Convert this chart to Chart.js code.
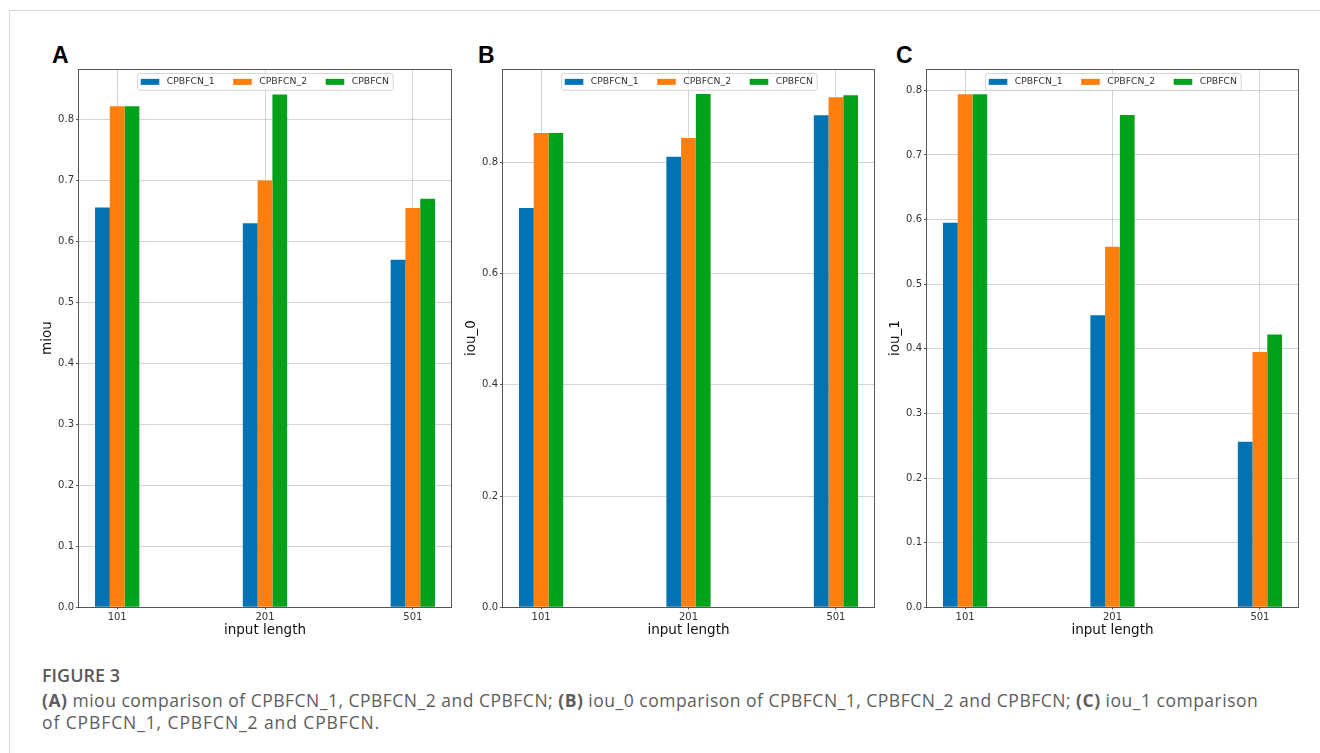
<!DOCTYPE html>
<html>
<head>
<meta charset="utf-8">
<script src="https://cdn.jsdelivr.net/npm/chart.js@4.4.0/dist/chart.umd.min.js"></script>
<style>
  body { margin: 0; background: #fff; width: 1320px; height: 753px; overflow: hidden; position: relative; }
  .marco { position: absolute; left: 9px; top: 10px; width: 1400px; height: 800px; border-left: 1px solid #d6d6d6; border-top: 1px solid #d6d6d6; }
  .panel { position: absolute; top: 60px; }
  .letra { position: absolute; top: 44px; font-family: "Liberation Sans", Arial, sans-serif; font-weight: bold; font-size: 23px; line-height: 23px; color: #000; }
  .fig { position: absolute; left: 42px; top: 664px; font-family: "Open Sans", sans-serif; font-weight: 600; font-size: 18px; line-height: 22px; color: #5a5a5a; }
  .texto { position: absolute; left: 42px; top: 689px; font-family: "Open Sans", sans-serif; font-size: 17.5px; line-height: 22px; color: #5d5d5d; white-space: nowrap; letter-spacing: 0.5px; }
  .texto b { font-weight: 700; }
  .texto .l2 { letter-spacing: 0.9px; }
</style>
</head>
<body>
<div class="marco"></div>

<div class="letra" style="left:52px">A</div>
<div class="letra" style="left:478px">B</div>
<div class="letra" style="left:896px">C</div>

<canvas id="graficoA" class="panel" style="left:38px" width="422" height="590"></canvas>
<canvas id="graficoB" class="panel" style="left:462px" width="421" height="590"></canvas>
<canvas id="graficoC" class="panel" style="left:886px" width="421" height="590"></canvas>

<div class="fig">FIGURE 3</div>
<div class="texto"><b>(A)</b> miou comparison of CPBFCN_1, CPBFCN_2 and CPBFCN; <b>(B)</b> iou_0 comparison of CPBFCN_1, CPBFCN_2 and CPBFCN; <b>(C)</b> iou_1 comparison<br><span class="l2">of CPBFCN_1, CPBFCN_2 and CPBFCN.</span></div>

<script>
// Datos
const inputLengths = ["101", "201", "501"];
const seriesNames = ["CPBFCN_1", "CPBFCN_2", "CPBFCN"];
const seriesColors = ["#0173b5", "#ff7f0e", "#02a11b"];

// (A) miou
const miouCPBFCN1 = [0.656, 0.630, 0.570];
const miouCPBFCN2 = [0.822, 0.700, 0.655];
const miouCPBFCN = [0.822, 0.841, 0.670];

// (B) iou_0
const iou0CPBFCN1 = [0.718, 0.810, 0.885];
const iou0CPBFCN2 = [0.853, 0.844, 0.917];
const iou0CPBFCN = [0.853, 0.923, 0.921];

// (C) iou_1
const iou1CPBFCN1 = [0.595, 0.452, 0.256];
const iou1CPBFCN2 = [0.794, 0.558, 0.395];
const iou1CPBFCN = [0.794, 0.762, 0.422];

Chart.defaults.font.family = '"DejaVu Sans", sans-serif';

// Caja de leyenda dentro del area del grafico (estilo matplotlib) + marco de ejes
const leyendaDentro = {
  id: "leyendaDentro",
  afterDraw(chart) {
    const { ctx, chartArea } = chart;

    // marco completo del area
    ctx.save();
    ctx.strokeStyle = "#555";
    ctx.lineWidth = 1;
    ctx.strokeRect(
      Math.round(chartArea.left) + 0.5,
      Math.round(chartArea.top) + 0.5,
      Math.round(chartArea.right - chartArea.left) - 1,
      Math.round(chartArea.bottom - chartArea.top)
    );

    const fs = 9.3;
    ctx.font = `${fs}px "DejaVu Sans"`;
    const items = chart.data.datasets.map((ds) => ({
      text: ds.label,
      color: ds.backgroundColor,
      w: ctx.measureText(ds.label).width,
    }));
    const handle = 2 * fs;
    const pad = 0.4 * fs;
    const textPad = 0.8 * fs;
    const colSpace = 2 * fs;
    let ancho = pad * 2 + colSpace * (items.length - 1);
    items.forEach((it) => (ancho += handle + textPad + it.w));
    const alto = 1.8 * fs;
    const x0 = Math.round((chartArea.left + chartArea.right) / 2 - ancho / 2);
    const y0 = Math.round(chartArea.top + 0.45 * fs);

    ctx.fillStyle = "rgba(255,255,255,0.85)";
    ctx.strokeStyle = "#d4d4d4";
    ctx.beginPath();
    ctx.roundRect(x0 + 0.5, y0 + 0.5, ancho, alto, 2);
    ctx.fill();
    ctx.stroke();

    let x = x0 + pad;
    const yc = y0 + alto / 2 + 0.5;
    ctx.textBaseline = "middle";
    items.forEach((it) => {
      ctx.fillStyle = it.color;
      ctx.fillRect(x, yc - 3, handle, 6);
      ctx.fillStyle = "#333";
      ctx.fillText(it.text, x + handle + textPad, yc);
      x += handle + textPad + it.w + colSpace;
    });
    ctx.restore();
  },
};

function crearGrafico(id, etiquetaY, valores, yMax, paso) {
  const ctx = document.getElementById(id).getContext("2d");
  new Chart(ctx, {
    type: "bar",
    data: {
      datasets: valores.map((serie, k) => ({
        label: seriesNames[k],
        data: serie.map((v, i) => ({ x: i, y: v })),
        backgroundColor: seriesColors[k],
        borderWidth: 0,
        categoryPercentage: 0.3,
        barPercentage: 1.0,
      })),
    },
    options: {
      responsive: false,
      animation: false,
      layout: { padding: { left: 0, right: 8, top: 9, bottom: 6.7 } },
      plugins: {
        legend: { display: false },
        tooltip: { enabled: false },
      },
      scales: {
        x: {
          type: "linear",
          min: -0.265,
          max: 2.265,
          offset: false,
          z: 1,
          afterBuildTicks: (axis) => {
            axis.ticks = inputLengths.map((_, i) => ({ value: i }));
          },
          afterFit: (scale) => {
            scale.height = 36;
          },
          ticks: {
            callback: (v) => inputLengths[v],
            color: "#333",
            font: { size: 10 },
            padding: 2,
            maxRotation: 0,
            autoSkip: false,
          },
          grid: {
            offset: false,
            color: "rgba(176,176,176,0.55)",
            tickColor: "#555",
            tickLength: 2,
          },
          border: { display: false },
          title: {
            display: true,
            text: "input length",
            color: "#111",
            font: { size: 13.5 },
            padding: { top: 0, bottom: 4.5 },
          },
        },
        y: {
          min: 0,
          max: yMax,
          z: 1,
          afterFit: (scale) => {
            scale.width = 40;
          },
          ticks: {
            stepSize: paso,
            includeBounds: false,
            callback: (v) => v.toFixed(1),
            color: "#333",
            font: { size: 10 },
            padding: 2,
          },
          grid: {
            color: "rgba(176,176,176,0.55)",
            tickColor: "#555",
            tickLength: 2,
          },
          border: { display: false },
          title: {
            display: true,
            text: etiquetaY,
            color: "#111",
            font: { size: 13.5 },
            padding: { top: 1, bottom: 0 },
          },
        },
      },
    },
    plugins: [leyendaDentro],
  });
}

crearGrafico("graficoA", "miou", [miouCPBFCN1, miouCPBFCN2, miouCPBFCN], 0.883, 0.1);
crearGrafico("graficoB", "iou_0", [iou0CPBFCN1, iou0CPBFCN2, iou0CPBFCN], 0.968, 0.2);
crearGrafico("graficoC", "iou_1", [iou1CPBFCN1, iou1CPBFCN2, iou1CPBFCN], 0.833, 0.1);
</script>
</body>
</html>
